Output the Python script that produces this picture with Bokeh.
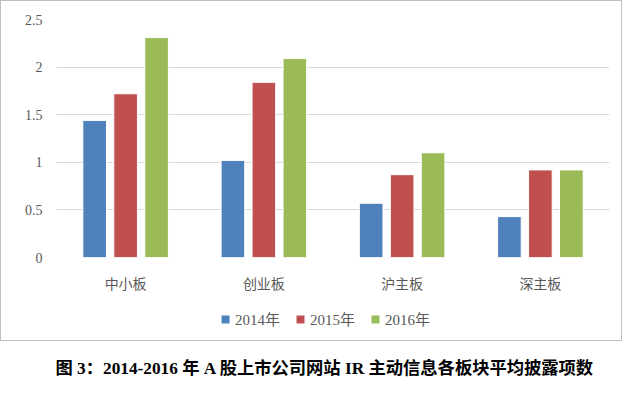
from bokeh.plotting import figure
from bokeh.layouts import column
from bokeh.models import (FactorRange, Range1d, FixedTicker, Legend, LegendItem,
                          Label, ColumnDataSource)
from bokeh.core.properties import value
from bokeh.transform import dodge
from bokeh.embed import file_html
from bokeh.resources import INLINE

# ---- data ----
boards = ["中小板", "创业板", "沪主板", "深主板"]
years = ["2014年", "2015年", "2016年"]
v2014 = [1.44, 1.02, 0.57, 0.43]
v2015 = [1.72, 1.84, 0.87, 0.92]
v2016 = [2.31, 2.09, 1.10, 0.92]
y_ticks = [0, 0.5, 1, 1.5, 2, 2.5]
y_tick_labels = ["0", "0.5", "1", "1.5", "2", "2.5"]
caption = "图 3：2014-2016 年 A 股上市公司网站 IR 主动信息各板块平均披露项数"

# ---- style ----
colors = ["#4F81BD", "#C0504D", "#9BBB59"]
offsets = [-0.224, 0.0, 0.224]
bar_w = 0.171
serif = "'Liberation Serif', 'Noto Sans CJK SC'"
cjk = "'Noto Sans CJK SC'"
grey_txt = "#595959"
box_css = "1px solid #BFBFBF"
BL, BR = 54, 13          # left / right borders shared by the framed figures

# ---- chart (top part of the framed box) ----
WC, HC = 622, 296
p = figure(width=WC, height=HC, x_range=FactorRange(*boards), y_range=Range1d(0, 2.5),
           output_backend="svg", toolbar_location=None,
           min_border_left=BL, min_border_right=BR, min_border_top=18, min_border_bottom=40,
           styles={"border-left": box_css, "border-right": box_css, "border-top": box_css})
p.outline_line_color = None
p.background_fill_color = "white"
p.border_fill_color = "white"

src = ColumnDataSource(dict(board=boards, y2014=v2014, y2015=v2015, y2016=v2016))
keys = ["y2014", "y2015", "y2016"]
for key, col, off in zip(keys, colors, offsets):
    p.vbar(x=dodge("board", off, range=p.x_range), top=key, width=bar_w, source=src,
           fill_color=col, line_color="white", line_width=1)

p.yaxis.ticker = FixedTicker(ticks=y_ticks)
p.yaxis.major_label_overrides = {t: l for t, l in zip(y_ticks, y_tick_labels)}
p.yaxis.axis_line_color = None
p.yaxis.major_tick_line_color = None
p.yaxis.major_tick_out = 0
p.yaxis.minor_tick_line_color = None
p.yaxis.major_label_standoff = 14
p.yaxis.major_label_text_font = serif
p.yaxis.major_label_text_font_size = "14px"
p.yaxis.major_label_text_color = grey_txt

p.xaxis.axis_line_color = None
p.xaxis.major_tick_line_color = None
p.xaxis.major_tick_out = 0
p.xaxis.major_label_standoff = 15
p.xaxis.major_label_text_font = cjk
p.xaxis.major_label_text_font_size = "14px"
p.xaxis.major_label_text_color = grey_txt

p.xgrid.grid_line_color = None
p.ygrid.grid_line_color = "#D9D9D9"
p.ygrid.grid_line_width = 1

# ---- legend strip (bottom part of the framed box) ----
WL, HL = 622, 45
lg = figure(width=WL, height=HL, x_range=Range1d(0, 1), y_range=Range1d(0, 1),
            x_axis_type=None, y_axis_type=None, output_backend="svg",
            toolbar_location=None, min_border_left=BL, min_border_right=BR,
            min_border_top=0, min_border_bottom=0,
            styles={"border-left": box_css, "border-right": box_css, "border-bottom": box_css})
lg.outline_line_color = None
lg.border_fill_color = "white"
lg.background_fill_color = "white"
legend_items = []
for yr, col in zip(years, colors):
    # legend-only swatch renderer (hidden in the plot area)
    r = lg.scatter(x=[0.5], y=[0.5], marker="square", size=8, fill_color=col,
                   line_color=None, visible=False)
    legend_items.append(LegendItem(label=value(yr), renderers=[r]))
legend = Legend(items=legend_items, orientation="horizontal", location=(159, 12),
                glyph_width=20, glyph_height=20, label_standoff=0, spacing=10,
                padding=0, margin=0, border_line_color=None, background_fill_alpha=0,
                inactive_fill_alpha=0,
                label_text_font=serif, label_text_font_size="15px",
                label_text_color=grey_txt, label_height=20)
lg.add_layout(legend)

# ---- caption ----
CW, CH = 624, 40
c = figure(width=CW, height=CH, x_range=Range1d(0, 1), y_range=Range1d(0, 1),
           x_axis_type=None, y_axis_type=None, output_backend="svg", toolbar_location=None,
           min_border_left=BL + 1, min_border_right=BR + 1, min_border_top=0, min_border_bottom=0)
c.outline_line_color = None
c.border_fill_color = "white"
c.background_fill_color = "white"
c.add_layout(Label(x=0, y=13, x_units="screen", y_units="screen", text=caption,
                   text_align="left", text_baseline="middle",
                   text_font=serif, text_font_size="17.3px", text_font_style="bold",
                   text_color="black"))

open("out.html", "w").write(file_html(column(p, lg, c, spacing=0), INLINE))
